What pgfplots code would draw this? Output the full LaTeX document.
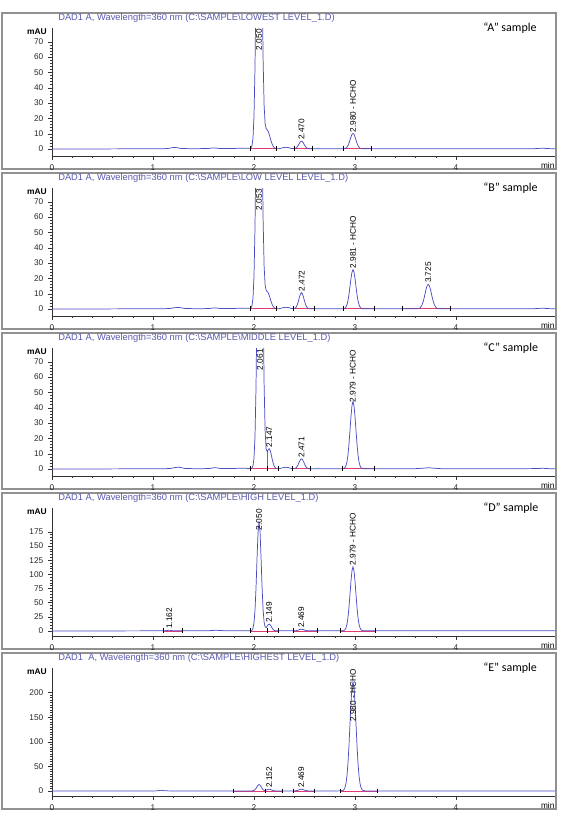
\documentclass[border=0pt]{standalone}
\usepackage{fontspec}
\setmainfont{Liberation Sans}
\newfontfamily\samplefont{Carlito}
\usepackage{pgfplots}
\pgfplotsset{compat=1.18}
\definecolor{curve}{RGB}{75,75,195}
\definecolor{base}{RGB}{225,60,110}
\definecolor{framec}{RGB}{145,145,145}
\definecolor{ttl}{RGB}{90,90,175}
\tikzset{plabel/.style={rotate=90, font=\fontsize{6.2}{7}\selectfont, inner sep=0.8pt}}
\pgfplotsset{chrom/.style={
  scale only axis, width=377.25pt, height=96pt,
  anchor=south west,
  xmin=0, xmax=4.98,
  axis x line=bottom, axis y line=left,
  axis line style={-, black!80, line width=0.5pt},
  tick align=outside,
  xtick={0,1,2,3,4}, minor x tick num=4,
  major tick length=3pt, minor tick length=1.8pt,
  tick style={black!80, line width=0.4pt},
  tick label style={font=\fontsize{6.2}{7}\selectfont, text=black!85},
  /pgf/number format/assume math mode=true,
  enlargelimits=false,
  clip=true,
},
cv/.style={curve, line width=0.55pt},
bl/.style={base, line width=0.5pt, mark=|, mark size=1.8pt, mark options={black, line width=0.4pt}},
}
\newcommand{\panelframe}[3]{%
  \draw[framec, line width=0.9pt] (1.5pt,{-#1*0.75pt}) rectangle (417pt,{-(#1+156)*0.75pt});
  \node[anchor=west, text=ttl, font=\fontsize{7.0}{8}\selectfont, inner sep=0] at (43.5pt,{-(#1+5.5)*0.75pt}) {#2};
  \node[anchor=west, font=\samplefont\fontsize{9}{10}\selectfont, inner sep=0] at (362.25pt,{-(#1+15)*0.75pt}) {#3};
  \node[anchor=east, font=\bfseries\fontsize{6.3}{7}\selectfont, inner sep=0] at (35.25pt,{-(#1+19)*0.75pt}) {mAU};
  \node[anchor=east, font=\fontsize{6.2}{7}\selectfont, inner sep=0] at (416pt,{-(#1+152)*0.75pt}) {min};
}
\begin{document}
\begin{tikzpicture}
\useasboundingbox (0,0) rectangle (421.5pt,-614.25pt);
\panelframe{13}{DAD1 A, Wavelength=360 nm (C:\textbackslash SAMPLE\textbackslash LOWEST LEVEL\_1.D)}{“A” sample}
\panelframe{173}{DAD1 A, Wavelength=360 nm (C:\textbackslash SAMPLE\textbackslash LOW LEVEL LEVEL\_1.D)}{“B” sample}
\panelframe{333}{DAD1 A, Wavelength=360 nm (C:\textbackslash SAMPLE\textbackslash MIDDLE LEVEL\_1.D)}{“C” sample}
\panelframe{493}{DAD1 A, Wavelength=360 nm (C:\textbackslash SAMPLE\textbackslash HIGH LEVEL\_1.D)}{“D” sample}
\panelframe{653}{DAD1\ \ A, Wavelength=360 nm (C:\textbackslash SAMPLE\textbackslash HIGHEST LEVEL\_1.D)}{“E” sample}

% ---------------- Panel A
\begin{axis}[chrom, at={(39pt,-117pt)}, ymin=-4.5, ymax=79, ytick={0,10,...,70}, minor y tick num=4]
\addplot[bl] coordinates {(1.96,0.2)(2.22,0.2)};
\addplot[bl] coordinates {(2.40,0.2)(2.58,0.2)};
\addplot[bl] coordinates {(2.88,0.2)(3.16,0.2)};
\addplot[cv] coordinates {(0,0.1)(0.3,0.1)(0.6,0.15)(0.9,0.2)(1.1,0.25)(1.15,0.4)(1.18,0.8)(1.21,1.1)(1.24,0.9)(1.28,0.4)(1.35,0.3)(1.45,0.3)(1.55,0.4)(1.59,0.8)(1.62,0.7)(1.66,0.4)(1.75,0.4)(1.85,0.5)(1.92,0.5)(1.96,0.5)(1.97,0.8)(1.98,2.2)(1.99,7.2)(2.00,21.5)(2.01,53.8)(2.02,110.8)(2.03,185)(2.04,252)(2.05,280)(2.06,252)(2.07,185)(2.08,113.8)(2.09,58.6)(2.10,28.7)(2.11,16.6)(2.12,13.4)(2.13,12.6)(2.14,11.6)(2.15,9.8)(2.16,7.5)(2.17,5.1)(2.18,3.2)(2.19,1.8)(2.20,1.0)(2.21,0.55)(2.22,0.3)(2.25,0.3)(2.28,0.8)(2.31,1.2)(2.34,1.0)(2.37,0.4)(2.40,0.3)(2.41,0.5)(2.42,0.9)(2.43,1.6)(2.44,2.6)(2.45,3.8)(2.46,4.8)(2.47,5.2)(2.48,4.8)(2.49,3.8)(2.50,2.6)(2.51,1.6)(2.52,0.9)(2.53,0.5)(2.55,0.25)(2.65,0.2)(2.8,0.2)(2.88,0.2)(2.89,0.26)(2.90,0.37)(2.91,0.64)(2.92,1.2)(2.93,2.2)(2.94,3.8)(2.95,5.8)(2.96,7.95)(2.97,9.6)(2.98,10.2)(2.99,9.6)(3.00,7.95)(3.01,5.8)(3.02,3.8)(3.03,2.2)(3.04,1.2)(3.05,0.64)(3.06,0.37)(3.07,0.26)(3.08,0.2)(3.3,0.2)(3.6,0.2)(4.0,0.2)(4.4,0.25)(4.78,0.3)(4.83,0.5)(4.86,0.6)(4.9,0.35)(4.98,0.25)};
\node[plabel, anchor=east] at (axis cs:2.05,79) {2.050};
\node[plabel, anchor=west] at (axis cs:2.47,5.2) {2.470};
\node[plabel, anchor=west] at (axis cs:2.98,10.2) {2.980 - HCHO};
\end{axis}

% ---------------- Panel B
\begin{axis}[chrom, at={(39pt,-237pt)}, ymin=-4.5, ymax=79, ytick={0,10,...,70}, minor y tick num=4]
\addplot[bl] coordinates {(1.96,0.2)(2.22,0.2)};
\addplot[bl] coordinates {(2.39,0.2)(2.60,0.2)};
\addplot[bl] coordinates {(2.88,0.2)(3.19,0.2)};
\addplot[bl] coordinates {(3.47,0.2)(3.94,0.2)};
\addplot[cv] coordinates {(0,0.1)(0.3,0.1)(0.6,0.15)(0.9,0.2)(1.1,0.25)(1.17,0.4)(1.21,0.9)(1.25,1.1)(1.28,0.8)(1.32,0.4)(1.4,0.3)(1.5,0.3)(1.56,0.4)(1.6,0.8)(1.63,0.7)(1.67,0.4)(1.75,0.4)(1.85,0.5)(1.92,0.5)(1.96,0.5)(1.97,0.8)(1.98,2.2)(1.99,7.2)(2.00,21.5)(2.01,53.8)(2.02,110.8)(2.03,185)(2.04,252)(2.05,280)(2.06,252)(2.07,185)(2.08,113.8)(2.09,58.6)(2.10,28.2)(2.11,15.8)(2.12,12.3)(2.13,11.5)(2.14,10.7)(2.15,9.1)(2.16,7.0)(2.17,4.8)(2.18,3.0)(2.19,1.7)(2.20,0.9)(2.21,0.5)(2.22,0.3)(2.25,0.3)(2.28,0.8)(2.31,1.2)(2.34,1.0)(2.37,0.4)(2.40,0.4)(2.41,0.8)(2.42,1.6)(2.43,3.1)(2.44,5.3)(2.45,7.8)(2.46,9.9)(2.47,10.7)(2.48,9.9)(2.49,7.8)(2.50,5.3)(2.51,3.1)(2.52,1.6)(2.53,0.8)(2.54,0.4)(2.56,0.2)(2.7,0.2)(2.88,0.24)(2.89,0.35)(2.90,0.63)(2.91,1.3)(2.92,2.8)(2.93,5.4)(2.94,9.4)(2.95,14.6)(2.96,20.0)(2.97,24.1)(2.98,25.7)(2.99,24.1)(3.00,20.0)(3.01,14.6)(3.02,9.4)(3.03,5.4)(3.04,2.8)(3.05,1.3)(3.06,0.63)(3.07,0.35)(3.08,0.24)(3.3,0.2)(3.5,0.2)(3.625,0.3)(3.635,0.5)(3.645,0.9)(3.655,1.7)(3.665,3.0)(3.675,4.9)(3.685,7.5)(3.695,10.5)(3.705,13.4)(3.715,15.4)(3.725,16.2)(3.735,15.4)(3.745,13.4)(3.755,10.5)(3.765,7.5)(3.775,4.9)(3.785,3.0)(3.795,1.7)(3.805,0.9)(3.815,0.5)(3.825,0.3)(4.0,0.2)(4.4,0.25)(4.78,0.3)(4.83,0.5)(4.86,0.6)(4.9,0.35)(4.98,0.25)};
\node[plabel, anchor=east] at (axis cs:2.05,79) {2.053};
\node[plabel, anchor=west] at (axis cs:2.472,10.7) {2.472};
\node[plabel, anchor=west] at (axis cs:2.981,25.7) {2.981 - HCHO};
\node[plabel, anchor=west] at (axis cs:3.725,16.2) {3.725};
\end{axis}

% ---------------- Panel C
\begin{axis}[chrom, at={(39pt,-357pt)}, ymin=-4.5, ymax=79, ytick={0,10,...,70}, minor y tick num=4]
\addplot[bl] coordinates {(1.96,0.2)(2.135,0.2)};
\addplot[bl] coordinates {(2.135,0.2)(2.24,0.2)};
\addplot[base, line width=0.5pt] coordinates {(2.135,0.2)(2.135,12.0)};
\addplot[bl] coordinates {(2.38,0.2)(2.56,0.2)};
\addplot[bl] coordinates {(2.87,0.2)(3.19,0.2)};
\addplot[cv] coordinates {(0,0.1)(0.3,0.1)(0.6,0.15)(0.9,0.2)(1.1,0.25)(1.17,0.4)(1.21,0.9)(1.25,1.3)(1.28,0.9)(1.32,0.4)(1.4,0.3)(1.5,0.3)(1.56,0.4)(1.6,0.9)(1.63,0.8)(1.67,0.4)(1.75,0.4)(1.85,0.5)(1.92,0.5)(1.96,0.4)(1.97,0.5)(1.98,0.8)(1.99,2.2)(2.00,7.2)(2.01,21.5)(2.02,53.8)(2.03,110.8)(2.04,185)(2.05,252)(2.06,280)(2.07,252)(2.08,185)(2.09,111.5)(2.10,55.5)(2.11,25.0)(2.12,13.3)(2.13,11.4)(2.14,12.6)(2.15,13.3)(2.16,12.2)(2.17,9.6)(2.18,6.5)(2.19,3.8)(2.20,2.0)(2.21,0.9)(2.22,0.5)(2.25,0.3)(2.28,0.8)(2.31,1.2)(2.34,1.0)(2.37,0.4)(2.40,0.3)(2.41,0.55)(2.42,1.1)(2.43,2.0)(2.44,3.4)(2.45,4.9)(2.46,6.2)(2.47,6.7)(2.48,6.2)(2.49,4.9)(2.50,3.4)(2.51,2.0)(2.52,1.1)(2.53,0.55)(2.54,0.3)(2.6,0.2)(2.8,0.2)(2.88,0.28)(2.89,0.45)(2.90,0.96)(2.91,2.1)(2.92,4.6)(2.93,9.1)(2.94,16.0)(2.95,25.0)(2.96,34.3)(2.97,41.4)(2.98,44.2)(2.99,41.4)(3.00,34.3)(3.01,25.0)(3.02,16.0)(3.03,9.1)(3.04,4.6)(3.05,2.1)(3.06,0.96)(3.07,0.45)(3.08,0.28)(3.3,0.2)(3.6,0.3)(3.68,0.6)(3.73,0.9)(3.78,0.6)(3.85,0.3)(4.2,0.2)(4.6,0.25)(4.8,0.35)(4.86,0.55)(4.92,0.3)(4.98,0.25)};
\node[plabel, anchor=east] at (axis cs:2.06,79) {2.061};
\node[plabel, anchor=west] at (axis cs:2.152,13.3) {2.147};
\node[plabel, anchor=west] at (axis cs:2.471,6.7) {2.471};
\node[plabel, anchor=east] at (axis cs:2.979,78.5) {2.979 - HCHO};
\end{axis}

% ---------------- Panel D
\begin{axis}[chrom, at={(39pt,-477pt)}, ymin=-8.8, ymax=217, ytick={0,25,...,175}, minor y tick num=4]
\addplot[bl] coordinates {(1.10,0.3)(1.29,0.3)};
\addplot[bl] coordinates {(1.96,0.3)(2.13,0.3)};
\addplot[bl] coordinates {(2.13,0.3)(2.24,0.3)};
\addplot[bl] coordinates {(2.39,0.3)(2.63,0.3)};
\addplot[bl] coordinates {(2.85,0.3)(3.20,0.3)};
\addplot[cv] coordinates {(0,0.2)(0.5,0.2)(1.0,0.3)(1.10,0.3)(1.13,0.6)(1.16,1.5)(1.19,0.7)(1.24,0.3)(1.4,0.3)(1.55,0.5)(1.62,1.4)(1.7,0.6)(1.85,0.4)(1.96,0.3)(1.97,0.55)(1.98,1.5)(1.99,5.0)(2.00,14.9)(2.01,37.2)(2.02,76.5)(2.03,128.1)(2.04,174.4)(2.05,193.3)(2.06,174.4)(2.07,128.1)(2.08,76.5)(2.09,37.5)(2.10,15.8)(2.11,7.3)(2.12,6.2)(2.13,8.5)(2.14,11.1)(2.15,12.3)(2.16,11.1)(2.17,8.2)(2.18,5.0)(2.19,2.6)(2.20,1.2)(2.21,0.6)(2.22,0.3)(2.3,0.6)(2.38,0.3)(2.40,0.3)(2.42,0.7)(2.44,1.8)(2.46,3.1)(2.47,3.3)(2.48,3.1)(2.50,1.8)(2.52,0.7)(2.54,0.3)(2.7,0.3)(2.88,0.5)(2.89,0.9)(2.90,2.2)(2.91,5.3)(2.92,11.7)(2.93,23.2)(2.94,41.0)(2.95,63.9)(2.96,87.9)(2.97,106.3)(2.98,113.3)(2.99,106.3)(3.00,87.9)(3.01,63.9)(3.02,41.0)(3.03,23.2)(3.04,11.7)(3.05,5.3)(3.06,2.2)(3.07,0.9)(3.08,0.5)(3.12,0.3)(3.5,0.3)(4.0,0.3)(4.5,0.3)(4.98,0.3)};
\node[plabel, anchor=west] at (axis cs:1.162,1.5) {1.162};
\node[plabel, anchor=east] at (axis cs:2.05,217) {2.050};
\node[plabel, anchor=west] at (axis cs:2.149,12.3) {2.149};
\node[plabel, anchor=west] at (axis cs:2.469,3.3) {2.469};
\node[plabel, anchor=west] at (axis cs:2.979,113.3) {2.979 - HCHO};
\end{axis}

% ---------------- Panel E
\begin{axis}[chrom, at={(39pt,-597pt)}, ymin=-10, ymax=250, ytick={0,50,...,200}, minor y tick num=9]
\addplot[bl] coordinates {(1.79,0.3)(2.11,0.3)};
\addplot[bl] coordinates {(2.11,0.3)(2.28,0.3)};
\addplot[bl] coordinates {(2.39,0.3)(2.60,0.3)};
\addplot[bl] coordinates {(2.85,0.3)(3.22,0.3)};
\addplot[cv] coordinates {(0,0.3)(0.5,0.3)(1.0,0.3)(1.04,0.5)(1.08,1.6)(1.12,0.6)(1.18,0.3)(1.5,0.3)(1.8,0.3)(1.96,0.3)(1.98,0.4)(1.99,0.6)(2.00,1.3)(2.01,2.8)(2.02,5.4)(2.03,8.9)(2.04,12.0)(2.05,13.3)(2.06,12.0)(2.07,8.9)(2.08,5.4)(2.09,2.9)(2.10,1.6)(2.11,1.3)(2.12,1.8)(2.13,2.6)(2.14,3.5)(2.15,3.8)(2.16,3.5)(2.17,2.6)(2.18,1.7)(2.19,1.0)(2.20,0.56)(2.21,0.4)(2.3,0.3)(2.40,0.3)(2.42,0.8)(2.44,2.0)(2.46,3.5)(2.47,3.8)(2.48,3.5)(2.50,2.0)(2.52,0.8)(2.54,0.3)(2.8,0.3)(2.87,0.56)(2.88,1.2)(2.89,2.7)(2.90,6.7)(2.91,15.0)(2.92,30.3)(2.93,55.6)(2.94,91.5)(2.95,135.1)(2.96,178.1)(2.97,210.3)(2.98,222.3)(2.99,210.3)(3.00,178.1)(3.01,135.1)(3.02,91.5)(3.03,55.6)(3.04,30.3)(3.05,15.0)(3.06,6.7)(3.07,2.7)(3.08,1.2)(3.09,0.56)(3.12,0.3)(3.5,0.3)(4.0,0.3)(4.5,0.3)(4.98,0.3)};
\node[plabel, anchor=west] at (axis cs:2.152,3.8) {2.152};
\node[plabel, anchor=west] at (axis cs:2.469,3.8) {2.469};
\node[plabel, anchor=east] at (axis cs:2.98,250) {2.980 - HCHO};
\end{axis}
\end{tikzpicture}
\end{document}
